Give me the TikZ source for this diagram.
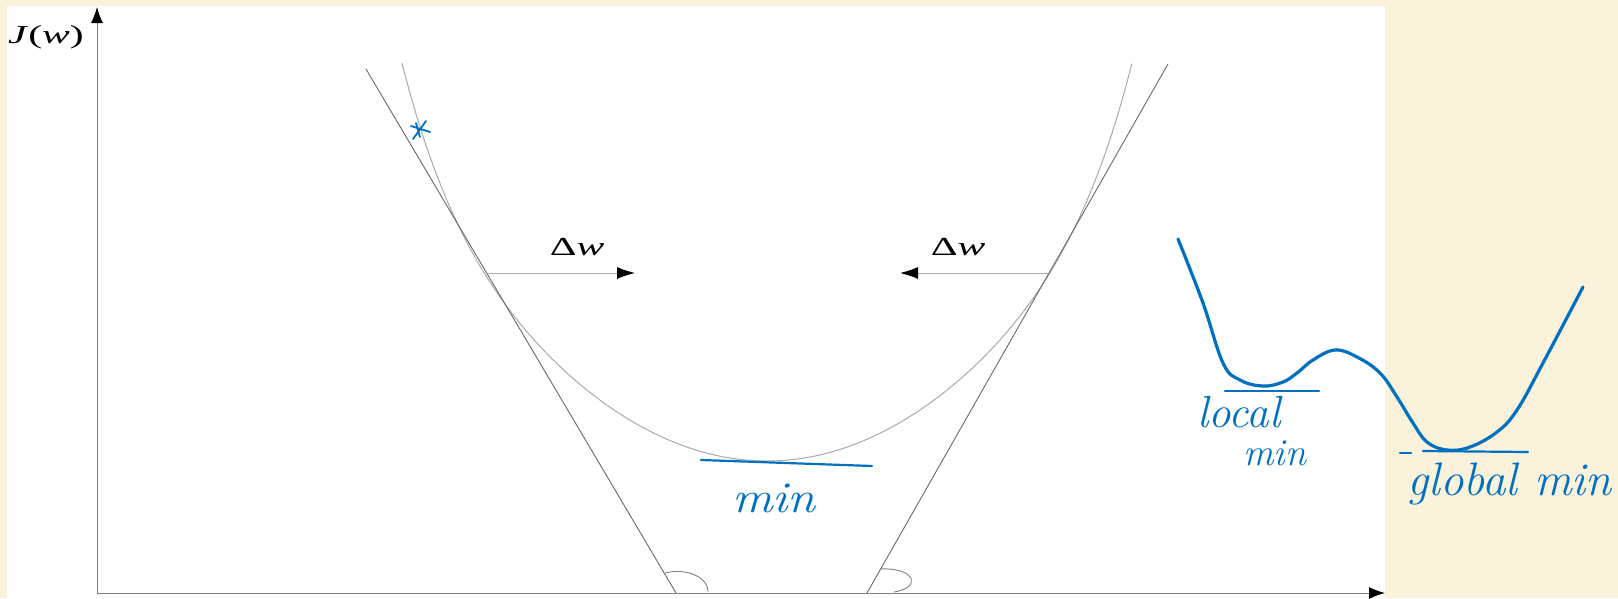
\documentclass[tikz,border=0pt]{standalone}
\usepackage{fontspec}
\newfontfamily\timesf{Liberation Serif}
\usetikzlibrary{arrows.meta}
\definecolor{parch}{RGB}{251,242,220}
\definecolor{pen}{RGB}{0,112,192}
\definecolor{axisgray}{RGB}{128,128,128}
\definecolor{curvegray}{RGB}{170,170,170}
\definecolor{linegray}{RGB}{105,105,105}
\definecolor{arrgray}{RGB}{175,175,175}
\begin{document}
\begin{tikzpicture}[x=1pt,y=-1pt,
  axisline/.style={draw=axisgray, line width=1pt, -{Latex[length=16pt,width=12pt,black]}},
  deltaarrow/.style={draw=arrgray, line width=1pt, -{Latex[length=18pt,width=12pt,black]}},
  tangent/.style={draw=linegray, line width=0.9pt},
  anglemark/.style={draw=axisgray, line width=0.9pt},
  pencurve/.style={draw=pen, line width=3.2pt, line cap=round, line join=round},
  penline/.style={draw=pen, line width=2.2pt, line cap=round},
  hand/.style={text=pen, inner sep=0pt, font=\fontsize{44}{48}\selectfont\itshape},
  mathlabel/.style={inner sep=0pt, font=\timesf\fontsize{26}{30}\selectfont}
]
\useasboundingbox (0,0) rectangle (1618,598);
\fill[parch] (0,0) rectangle (1618,598);
\fill[white] (7,6) rectangle (1385,598);

% axes
\coordinate (O) at (97,593);
\coordinate (Ytip) at (97,7);
\coordinate (Xtip) at (1385,593);
\draw[axisline] (O) -- (Ytip);
\draw[axisline] (O) -- (Xtip);
\node[mathlabel, anchor=west] (Jw) at (8,37) {\scalebox{1.6}[1]{\textit{J}(\textit{w})}};

% cost curve
\draw[draw=curvegray, line width=1pt] plot[domain=-1:1, samples=161, smooth]
  ({767+365*\x},{461-290*\x*\x-108*(\x*\x)^4});

% tangent lines
\coordinate (L1) at (366,69);
\coordinate (L2) at (676,593);
\coordinate (R1) at (1168,64);
\coordinate (R2) at (867,593);
\draw[tangent] (L1) -- (L2);
\draw[tangent] (R1) -- (R2);

% angle marks
\draw[anglemark] (665,573) arc[start angle=113, end angle=0, x radius=31pt, y radius=20pt];
\draw[anglemark] (880,569) arc[start angle=100, end angle=-70, x radius=27pt, y radius=12pt];

% delta w arrows
\coordinate (tL) at (487,273);
\coordinate (tLe) at (635,273);
\coordinate (tR) at (1048,273);
\coordinate (tRe) at (900,273);
\draw[deltaarrow] (tL) -- (tLe);
\draw[deltaarrow] (tR) -- (tRe);
\node[mathlabel, anchor=base] (dwL) at (577,255) {\scalebox{1.6}[1]{Δ\textit{w}}};
\node[mathlabel, anchor=base] (dwR) at (958,255) {\scalebox{1.6}[1]{Δ\textit{w}}};

% star marker
\draw[pen, line width=1.8pt, line cap=round] (411,126) -- (430,132) (413,139) -- (426,121) (416,123) -- (420,137);

% min line and label
\coordinate (m1) at (701,460);
\coordinate (m2) at (872,466);
\draw[penline] (m1) -- (m2);
\node[hand, anchor=base] (minA) at (774,512) {\scalebox{1.15}[1]{min}};

% local / global minima sketch
\draw[pencurve] plot[smooth, tension=0.65] coordinates {
  (1178,239) (1203,303) (1223,363) (1240,380) (1263,386)
  (1283,382) (1297,373) (1313,360) (1335,350) (1357,357) (1380,373) (1397,397)
  (1413,423) (1427,442) (1447,450) (1470,447) (1497,432) (1517,410) (1543,363) (1583,287)};
\coordinate (lm1) at (1225,391);
\coordinate (lm2) at (1319,391);
\draw[penline] (lm1) -- (lm2);
\coordinate (gd1) at (1400,453);
\coordinate (gd2) at (1411,453);
\draw[penline] (gd1) -- (gd2);
\coordinate (gm1) at (1423,451);
\coordinate (gm2) at (1528,452);
\draw[penline] (gm1) -- (gm2);
\node[hand, anchor=base west, font=\fontsize{45}{50}\selectfont\itshape] (localt) at (1197,427) {local};
\node[hand, anchor=base west, font=\fontsize{38}{42}\selectfont\itshape] (minB) at (1243,465) {min};
\node[hand, anchor=base west, font=\fontsize{47}{52}\selectfont\itshape] (globalt) at (1407,495) {global min};
\end{tikzpicture}
\end{document}
